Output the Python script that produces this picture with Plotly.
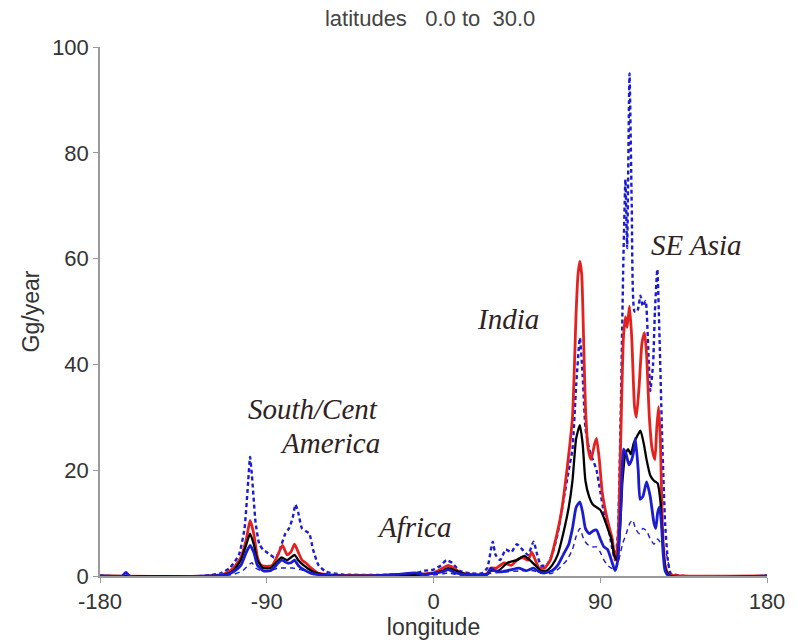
import plotly.graph_objects as go

# ---- data (longitude, Gg/year) ----
hi_lon = [-180, -125, -115, -110, -105, -102, -100, -99, -98, -96, -94, -92, -90, -88, -86, -84, -82, -80, -78, -76,
          -74.5, -73, -71, -69, -67, -65, -62, -58, -50, -30, -10, -5, 0, 4, 7, 10, 14, 20, 26, 29, 31, 32, 33.5, 36,
          39, 42, 45, 48, 51, 54, 56, 58, 61, 64, 67, 70, 73, 75, 77, 79, 80.5, 82, 84, 86, 88, 90, 92, 94, 96, 98,
          99.5, 101, 102.5, 103.6, 104.5, 105.8, 107, 108.5, 110, 111.7, 113, 114.5, 116, 117, 118.5, 119.5, 120.8,
          122, 123.5, 125, 126.5, 128, 135, 180]
hi_val = [0, 0, 0.5, 1.5, 4, 9, 18, 22.5, 19, 10, 6, 5, 4.5, 4, 3.5, 4, 6, 8, 9, 11,
          13.5, 12, 9, 8.5, 8, 5, 2, 0.8, 0.3, 0.2, 0.5, 1, 1.2, 2, 3, 2.5, 1, 0.5, 0.5, 1.5, 5, 6.5, 4, 3,
          5, 4.5, 6, 5, 4, 6.5, 4, 2, 2, 4, 8, 14, 20, 24, 36, 45, 38, 28, 24, 22, 20, 16, 12, 10, 6, 3,
          8, 30, 60, 75, 62, 95, 70, 50, 50, 53, 51, 52, 42, 35, 40, 50, 58,
          45, 25, 10, 3, 0.5, 0, 0]

red_lon = [-180, -120, -112, -108, -104, -101, -99, -97, -95, -93, -90, -87, -84, -81.5, -79, -77, -75, -73, -71, -69,
           -66, -62, -55, -40, -10, 0, 5, 8, 11, 15, 25, 29, 31, 34, 38, 42, 45, 48, 51, 53, 55, 57, 60, 63, 66, 69,
           72, 75, 77, 78, 79, 80, 81, 82, 83.5, 85, 87, 88, 89.5, 91, 93, 95, 96.5, 98, 99.5, 101, 102.5, 103.6,
           104.5, 105.8, 107, 108.5, 109.5, 111, 112.5, 113.9, 115, 116.5, 118, 119.5, 120.5, 121.5, 122.5, 123.5,
           125, 127, 135, 180]
red_val = [0, 0, 0.5, 1.5, 3.5, 7, 10.5, 8, 3.5, 2, 1.8, 2, 4, 5.8, 4, 4.5, 6, 4.5, 3, 2.5,
           1.5, 0.5, 0.2, 0.1, 0.3, 0.6, 1.5, 2, 1.5, 0.5, 0.2, 0.5, 1.5, 1.5, 2.5, 2, 3, 3.5, 3, 4.5, 3, 1.5, 1.5, 3, 7, 12,
           20, 30, 50, 57, 59.5, 57, 45, 32, 24, 22, 25, 26, 22, 16, 12, 9, 7, 3, 6, 25, 45, 49,
           47, 51, 45, 32, 30, 36, 44, 46, 42, 30, 24, 22, 28, 32, 25, 10,
           2, 0.3, 0, 0]

blk_lon = [-180, -120, -112, -108, -104, -101, -99, -97, -95, -92, -88, -85, -82, -79, -77, -75, -73, -70, -66, -60,
           -40, -5, 0, 5, 8, 12, 18, 29, 31, 35, 40, 45, 49, 52, 55, 58, 61, 64, 67, 70, 73, 75, 77, 79, 80.5, 82,
           84, 86, 88, 90, 92, 94, 96, 97.5, 99, 100.5, 102, 103.5, 105, 106.5, 108, 110, 111.7, 113.5, 115, 117,
           119, 121, 122.5, 124, 125.5, 128, 180]
blk_val = [0, 0, 0.3, 1, 3, 6, 8, 6, 3, 1.5, 1.5, 2.5, 3.5, 3, 3.5, 4, 3, 2, 1, 0.3,
           0, 0.3, 0.5, 1, 1.5, 1, 0.3, 0.3, 1, 1, 2.5, 3, 3.8, 3, 2, 1, 1, 2, 4, 8, 13, 18, 26, 28.5, 25, 18,
           15, 13.5, 13, 12.5, 11, 9, 7, 4, 3, 8, 18, 23, 24, 23, 25, 26.5, 27.5, 25, 22, 19,
           18, 17.5, 14, 5, 1, 0, 0]

blu_lon = [-180, -168, -166, -164, -120, -112, -108, -104, -101, -99, -97, -95, -92, -88, -85, -82, -79, -77, -75, -73,
           -70, -66, -60, -40, -20, -10, -5, 0, 5, 8, 12, 20, 29, 31, 33, 37, 42, 46, 50, 54, 57, 60, 64, 67, 70,
           73, 75, 77, 79, 80.5, 82, 84, 86, 88, 90, 92, 94, 96, 98, 99.5, 101, 102.6, 104, 105.5, 107, 108.5,
           109, 110.5, 111.5, 113, 115, 117, 119, 120, 121, 122, 123, 124, 125, 127, 180]
blu_val = [0, 0, 0.7, 0, 0, 0.2, 0.8, 2, 4.5, 5.8, 4.5, 2, 1, 1, 2, 3, 2.5, 2.5, 3, 2,
           1.2, 0.5, 0.2, 0, 0.3, 0.6, 0.3, 0.5, 0.8, 1.2, 0.6, 0.2, 0.3, 1.5, 1, 0.8, 1.2, 1.5, 1, 1.5, 0.8, 0.6, 1, 2, 4,
           6, 9, 13, 14, 12, 9, 8, 8.5, 8.7, 7, 5.5, 5, 3, 1, 3, 12, 24, 23, 21, 22, 24.5,
           26, 20, 14.5, 15, 17.8, 15, 10, 9, 12, 13, 10, 4, 1, 0, 0]

lo_lon = [-180, -120, -108, -103, -100, -98, -96, -92, -88, -84, -80, -76, -72, -68, -62, -50, 0, 5, 8, 12, 20, 31,
          40, 48, 54, 58, 64, 68, 72, 75, 77, 79, 81, 83, 86, 88, 90, 92, 94, 96, 98, 100, 102, 104, 106, 107.5,
          109, 111, 113, 115, 117, 119, 121, 123, 125, 126.5, 128, 131, 180]
lo_val = [0, 0, 0.3, 1, 2, 2.5, 1.5, 0.8, 1, 1.5, 1.5, 1.5, 1.2, 0.8, 0.2, 0, 0.2, 0.4, 0.6, 0.3, 0, 0.5,
          0.8, 1, 1, 0.5, 0.5, 1.5, 3, 5, 7.5, 9, 7, 6, 5.5, 5.5, 4.5, 3, 2, 1.5, 1.2, 3, 6, 8, 10, 10.6,
          9, 8, 9, 8.5, 7, 6, 7, 6, 5, 3, 0.5, 0, 0]

x_ticks = [-180, -90, 0, 90, 180]
y_ticks = [0, 20, 40, 60, 80, 100]

BLUE = "#1c1ccf"
RED = "#e3221f"
SANS = "Liberation Sans"

fig = go.Figure()
shape = dict(shape="spline", smoothing=0.5)
fig.add_trace(go.Scatter(x=hi_lon, y=hi_val, mode="lines",
                         line=dict(color=BLUE, width=2.4, dash="4px,3px", **shape)))
fig.add_trace(go.Scatter(x=lo_lon, y=lo_val, mode="lines",
                         line=dict(color=BLUE, width=1.4, dash="5px,4px", **shape)))
fig.add_trace(go.Scatter(x=red_lon, y=red_val, mode="lines",
                         line=dict(color=RED, width=2.8, **shape)))
fig.add_trace(go.Scatter(x=blk_lon, y=blk_val, mode="lines",
                         line=dict(color="black", width=2.3, **shape)))
fig.add_trace(go.Scatter(x=blu_lon, y=blu_val, mode="lines",
                         line=dict(color=BLUE, width=2.8, **shape)))

afont = dict(family="Liberation Serif", size=29, color="#2e2222", style="italic")
notes = [("South/Cent", -65, 31.5), ("America", -56, 25.2), ("Africa", -10, 9.2),
         ("India", 40, 48.5), ("SE Asia", 142, 62.5)]
for txt, x, y in notes:
    fig.add_annotation(x=x, y=y, text=txt, showarrow=False, font=afont, xref="x", yref="y")

axis_common = dict(showgrid=False, zeroline=False, showline=True, linecolor="#9a9a9a", linewidth=1.5,
                   ticks="outside", ticklen=5, tickcolor="#9a9a9a",
                   tickfont=dict(family=SANS, size=22, color="#333333"))
fig.update_xaxes(range=[-180, 180], tickvals=x_ticks, ticktext=[str(v) for v in x_ticks],
                 title=dict(text="longitude", font=dict(family=SANS, size=23, color="#333333"), standoff=0),
                 **axis_common)
fig.update_yaxes(range=[0, 100], tickvals=y_ticks,
                 title=dict(text="Gg/year", font=dict(family=SANS, size=23, color="#333333"), standoff=6),
                 **axis_common)
fig.update_layout(
    width=798, height=641, showlegend=False,
    margin=dict(l=100, r=31, t=47, b=65),
    plot_bgcolor="white", paper_bgcolor="white",
    title=dict(text="latitudes   0.0 to  30.0", x=0.539, xanchor="center", y=0.972, yanchor="middle",
               font=dict(family=SANS, size=22, color="#444444")),
)
fig.write_html("out.html")
